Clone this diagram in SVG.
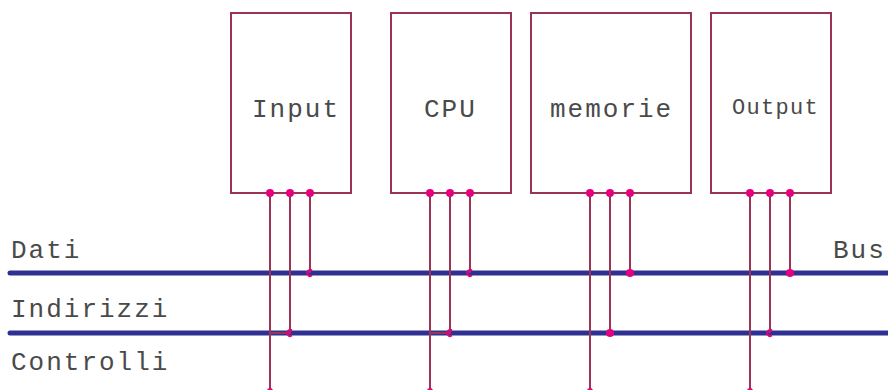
<svg xmlns="http://www.w3.org/2000/svg" width="888" height="390" viewBox="0 0 888 390">
<style>
.box{fill:#fff;stroke:#9b3454;stroke-width:2}
.t{font-family:"Liberation Mono","Courier New",monospace;font-size:26px;letter-spacing:2px;fill:#4a4a4a}
.w{fill:none;stroke:#9b3454;stroke-width:2}
.bus{stroke:#2e3192;stroke-width:5;stroke-linecap:round}
.dot{fill:#e6007e}
.arc{fill:none;stroke:#e6007e;stroke-width:2}
</style>
<rect width="888" height="390" fill="#fff"/>
<g id="buses">
<line class="bus" x1="10" y1="273" x2="895" y2="273"/>
<line class="bus" x1="10" y1="333" x2="895" y2="333"/>
<text class="t" x="11" y="258">Dati</text>
<text class="t" x="11" y="317">Indirizzi</text>
<text class="t" x="11" y="370">Controlli</text>
<text class="t" x="833" y="258">Bus</text>
</g>
<g id="input"><rect class="box" x="231" y="13" width="120" height="180"/><text class="t" x="252" y="117">Input</text></g>
<g id="cpu"><rect class="box" x="391" y="13" width="120" height="180"/><text class="t" x="424" y="117">CPU</text></g>
<g id="memorie"><rect class="box" x="531" y="13" width="160" height="180"/><text class="t" x="550" y="117">memorie</text></g>
<g id="output"><rect class="box" x="711" y="13" width="120" height="180"/><text class="t" x="732" y="114" style="font-size:22px;letter-spacing:1.3px">Output</text></g>
<g id="connectors">
<path class="w" d="M270 193V390M290 193V333H270M310 193V273"/>
<path class="w" d="M430 193V390M450 193V333H430M470 193V273"/>
<path class="w" d="M590 193V390M610 193V333M630 193V273"/>
<path class="w" d="M750 193V390M770 193V333M790 193V273"/>
<g class="dot">
<circle cx="270" cy="193" r="4"/><circle cx="290" cy="193" r="4"/><circle cx="310" cy="193" r="4"/>
<circle cx="430" cy="193" r="4"/><circle cx="450" cy="193" r="4"/><circle cx="470" cy="193" r="4"/>
<circle cx="590" cy="193" r="4"/><circle cx="610" cy="193" r="4"/><circle cx="630" cy="193" r="4"/>
<circle cx="750" cy="193" r="4"/><circle cx="770" cy="193" r="4"/><circle cx="790" cy="193" r="4"/>
<circle cx="630" cy="273" r="4"/><circle cx="610" cy="333" r="4"/><circle cx="790" cy="273" r="4"/>
<circle cx="270" cy="391" r="3"/><circle cx="430" cy="391" r="3"/><circle cx="590" cy="391" r="3"/><circle cx="750" cy="391" r="3"/>
</g>
<path class="arc" d="M312 270.5A3 3 0 1 0 312 275.5M292 330.5A3 3 0 1 0 292 335.5M472 270.5A3 3 0 1 0 472 275.5M452 330.5A3 3 0 1 0 452 335.5M772 330.5A3 3 0 1 0 772 335.5"/>
</g>
</svg>
